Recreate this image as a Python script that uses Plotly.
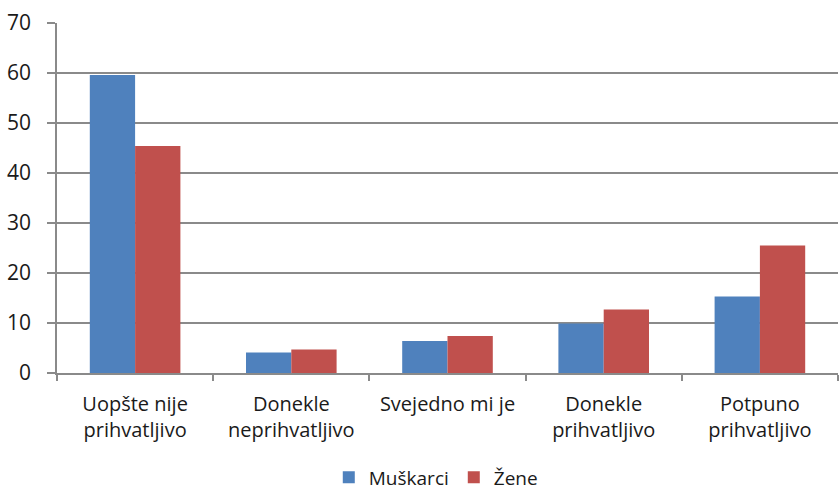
import plotly.graph_objects as go

categories = [
    "Uopšte nije<br>prihvatljivo",
    "Donekle<br>neprihvatljivo",
    "Svejedno mi je",
    "Donekle<br>prihvatljivo",
    "Potpuno<br>prihvatljivo",
]
muskarci = [59.6, 4.1, 6.4, 9.9, 15.3]
zene = [45.4, 4.7, 7.4, 12.7, 25.5]
y_ticks = [0, 10, 20, 30, 40, 50, 60, 70]

font_family = "'Open Sans', Lato, sans-serif"
grid_color = "#8a8a8a"

fig = go.Figure()
fig.add_trace(go.Bar(name="Muškarci", x=categories, y=muskarci,
                     marker=dict(color="#4F81BD", line=dict(width=0))))
fig.add_trace(go.Bar(name="Žene", x=categories, y=zene,
                     marker=dict(color="#C0504D", line=dict(width=0))))

fig.update_layout(
    width=840, height=494,
    margin=dict(l=57, r=2, t=23, b=121, autoexpand=False),
    paper_bgcolor="white", plot_bgcolor="white",
    barmode="group", bargap=0.42, bargroupgap=0,
    font=dict(family=font_family, size=20, color="#1a1a1a"),
    showlegend=True,
    legend=dict(orientation="h", x=0.485, xanchor="center", y=-0.298,
                yanchor="middle", font=dict(size=19), itemwidth=30,
                traceorder="normal", tracegroupgap=0),
    xaxis=dict(
        showline=True, linecolor=grid_color, linewidth=1.5,
        ticks="outside", tickson="boundaries", ticklen=6,
        tickcolor=grid_color, tickwidth=1.5, ticklabelstandoff=12,
        showgrid=False, tickfont=dict(size=20),
    ),
    yaxis=dict(
        range=[0, 70], tickvals=y_ticks, showgrid=True,
        gridcolor=grid_color, gridwidth=1.5,
        showline=True, linecolor=grid_color, linewidth=1.5,
        ticks="outside", ticklen=8, tickcolor=grid_color, tickwidth=1.5,
        ticklabelstandoff=12,
        zeroline=False, tickfont=dict(size=21),
    ),
)

fig.write_html("out.html")
